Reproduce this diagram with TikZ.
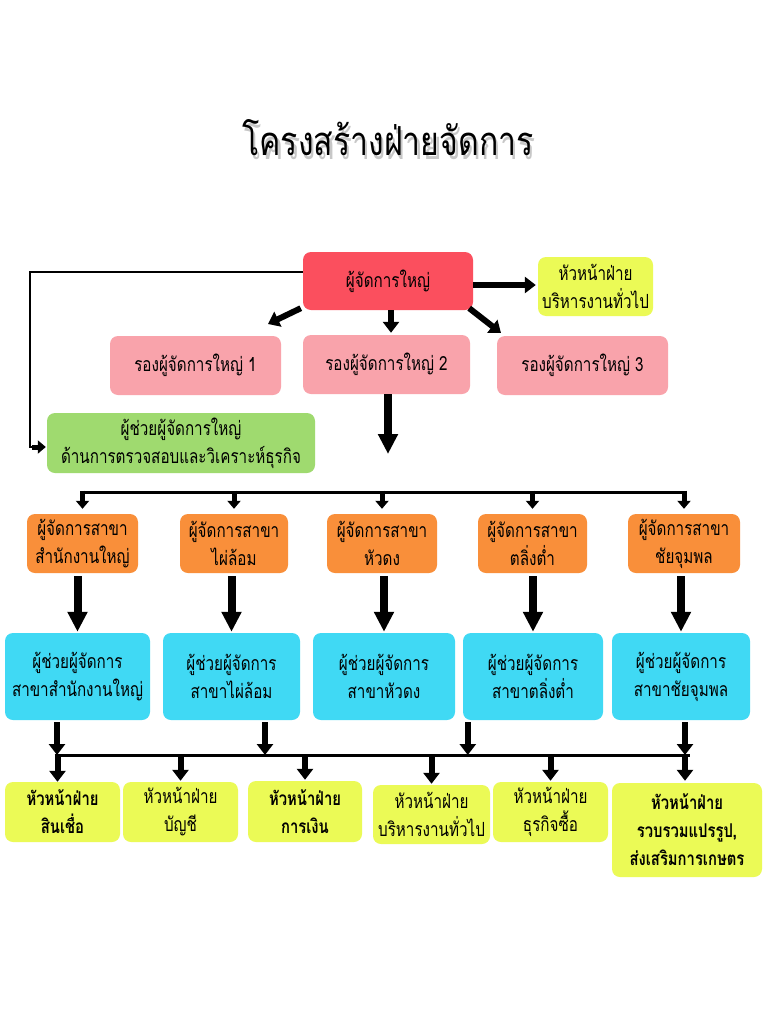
\documentclass[tikz,border=0pt]{standalone}
\usepackage{fontspec}
\newfontfamily\thaic[Script=Thai,FakeStretch=0.78]{Loma}
\newfontfamily\thait[Script=Thai,FakeStretch=0.8]{Loma}
\usetikzlibrary{arrows.meta,calc}
\definecolor{cred}{RGB}{251,79,94}
\definecolor{cpink}{RGB}{249,163,171}
\definecolor{cyel}{RGB}{235,250,86}
\definecolor{cgreen}{RGB}{159,218,111}
\definecolor{corange}{RGB}{249,143,58}
\definecolor{cblue}{RGB}{64,217,244}
\tikzset{
  box/.style={rounded corners=8pt, inner sep=0pt, align=center, text=black,
    font=\thaic\fontsize{19.5}{28}\selectfont},
  boldbox/.style={font=\thaic\bfseries\fontsize{19}{28}\selectfont},
  redbox/.style={box, fill=cred},
  pinkbox/.style={box, fill=cpink},
  yelbox/.style={box, fill=cyel},
  greenbox/.style={box, fill=cgreen},
  orbox/.style={box, fill=corange},
  bluebox/.style={box, fill=cblue},
  bigarrow/.style={line width=8pt, -{Triangle[width=19pt,length=20pt]}},
  midarrow/.style={line width=6pt, -{Triangle[width=16pt,length=11pt]}},
  smallarrow/.style={line width=5pt, -{Triangle[width=13pt,length=8pt]}},
  busline/.style={line width=3pt},
  thinline/.style={line width=2pt},
  titlefont/.style={font=\thait\fontsize{40}{44}\selectfont},
}
\begin{document}
\begin{tikzpicture}[x=1pt,y=-1pt]
\useasboundingbox[fill=white] (0,0) rectangle (770,1033);
% title
\node[titlefont, text=black!40, opacity=0.55] (tshadow) at (390.5,141.5) {โครงสร้างฝ่ายจัดการ};
\node[titlefont, text=black] (title) at (388,138) {โครงสร้างฝ่ายจัดการ};
% top level
\node[redbox, minimum width=170pt, minimum height=58pt] (gm) at (388,281) {ผู้จัดการใหญ่};
\node[yelbox, minimum width=115pt, minimum height=59pt] (gy) at (595.5,286.5) {หัวหน้าฝ่าย\\บริหารงานทั่วไป};
\node[pinkbox, minimum width=171pt, minimum height=59pt] (d1) at (195.5,365.5) {รองผู้จัดการใหญ่ 1};
\node[pinkbox, minimum width=167pt, minimum height=59pt] (d2) at (386.5,364.5) {รองผู้จัดการใหญ่ 2};
\node[pinkbox, minimum width=171pt, minimum height=59pt] (d3) at (582.5,365.5) {รองผู้จัดการใหญ่ 3};
\node[greenbox, minimum width=268pt, minimum height=60pt] (ag) at (181,443) {ผู้ช่วยผู้จัดการใหญ่\\ด้านการตรวจสอบและวิเคราะห์ธุรกิจ};
% branch managers
\node[orbox, minimum width=111pt, minimum height=59pt] (o1) at (82.5,543.5) {ผู้จัดการสาขา\\สำนักงานใหญ่};
\node[orbox, minimum width=108pt, minimum height=59pt] (o2) at (234,543.5) {ผู้จัดการสาขา\\ไผ่ล้อม};
\node[orbox, minimum width=110pt, minimum height=59pt] (o3) at (382,543.5) {ผู้จัดการสาขา\\หัวดง};
\node[orbox, minimum width=109pt, minimum height=59pt] (o4) at (532.5,543.5) {ผู้จัดการสาขา\\ตลิ่งต่ำ};
\node[orbox, minimum width=112pt, minimum height=59pt] (o5) at (684,543.5) {ผู้จัดการสาขา\\ชัยจุมพล};
% assistants
\node[bluebox, minimum width=145pt, minimum height=87pt] (b1) at (77.5,676.5) {ผู้ช่วยผู้จัดการ\\สาขาสำนักงานใหญ่};
\node[bluebox, minimum width=137pt, minimum height=87pt] (b2) at (231.5,676.5) {ผู้ช่วยผู้จัดการ\\สาขาไผ่ล้อม};
\node[bluebox, minimum width=142pt, minimum height=87pt] (b3) at (384,676.5) {ผู้ช่วยผู้จัดการ\\สาขาหัวดง};
\node[bluebox, minimum width=140pt, minimum height=87pt] (b4) at (533,676.5) {ผู้ช่วยผู้จัดการ\\สาขาตลิ่งต่ำ};
\node[bluebox, minimum width=138pt, minimum height=87pt] (b5) at (681,676.5) {ผู้ช่วยผู้จัดการ\\สาขาชัยจุมพล};
% department heads
\node[yelbox, boldbox, minimum width=115pt, minimum height=60pt] (y1) at (62.5,812) {หัวหน้าฝ่าย\\สินเชื่อ};
\node[yelbox, minimum width=115pt, minimum height=60pt] (y2) at (180.5,812) {หัวหน้าฝ่าย\\บัญชี};
\node[yelbox, boldbox, minimum width=114pt, minimum height=61pt] (y3) at (305,811.5) {หัวหน้าฝ่าย\\การเงิน};
\node[yelbox, minimum width=117pt, minimum height=59pt] (y4) at (431.5,814.5) {หัวหน้าฝ่าย\\บริหารงานทั่วไป};
\node[yelbox, minimum width=115pt, minimum height=60pt] (y5) at (550.5,812) {หัวหน้าฝ่าย\\ธุรกิจซื้อ};
\node[yelbox, boldbox, minimum width=150pt, minimum height=94pt] (y6) at (687,830) {หัวหน้าฝ่าย\\รวบรวมแปรรูป,\\ส่งเสริมการเกษตร};
% free ends
\coordinate (e1) at (268,324);
\coordinate (e3) at (501,333);
\coordinate (e2) at (388,454);
\coordinate (c1) at (30,447);
\coordinate (bus1) at (0,492);
\coordinate (bus2) at (0,755);
% top connectors
\draw[midarrow] ([yshift=-4pt]gm.east) -- ([xshift=-2pt,yshift=1.5pt]gy.west);
\draw[midarrow] ([xshift=-2pt,yshift=2pt]gm.south west) -- (e1);
\draw[midarrow] ([xshift=-4pt,yshift=2pt]gm.south east) -- (e3);
\draw[midarrow] ([xshift=3pt]gm.south) -- ([xshift=3pt,yshift=2pt]gm.south |- d2.north);
\draw[bigarrow] ([xshift=1.5pt]d2.south) -- (e2);
\draw[thinline] ([yshift=9pt]gm.west) -| (c1) -- ([xshift=-14pt,yshift=-4pt]ag.west);
\draw[smallarrow] ([xshift=-15pt,yshift=-4pt]ag.west) -- ([xshift=-1pt,yshift=-4pt]ag.west);
% bus 1
\draw[busline] (bus1 -| o1.north) -- (bus1 -| o5.north);
\foreach \n in {o1,o2,o3,o4,o5}
  \draw[smallarrow] ([yshift=1.5pt]bus1 -| \n.north) -- ([yshift=5pt]\n.north);
% orange to blue
\foreach \o/\b in {o1/b1,o2/b2,o3/b3,o4/b4,o5/b5}
  \draw[bigarrow] ([yshift=-3pt]\b.north |- \o.south) -- ([yshift=1pt]\b.north);
% blue to bus 2
\draw[midarrow] ([xshift=-20.5pt,yshift=-2pt]b1.south) -- ([xshift=-20.5pt]b1.south |- bus2);
\draw[midarrow] ([xshift=33.5pt,yshift=-2pt]b2.south) -- ([xshift=33.5pt]b2.south |- bus2);
\draw[midarrow] ([xshift=5pt,yshift=-2pt]b4.south west) -- ([xshift=5pt]b4.south west |- bus2);
\draw[midarrow] ([xshift=4pt,yshift=-2pt]b5.south) -- ([xshift=4pt]b5.south |- bus2);
% bus 2
\draw[busline] ([xshift=-8pt]bus2 -| y1.north) -- ([xshift=3pt]bus2 -| y6.north);
\draw[midarrow] ([xshift=-5pt,yshift=-1.5pt]bus2 -| y1.north) -- ([xshift=-5pt]y1.north);
\foreach \n in {y2,y3,y4,y5}
  \draw[midarrow] ([yshift=-1.5pt]bus2 -| \n.north) -- ([yshift=1pt]\n.north);
\draw[midarrow] ([xshift=-2pt,yshift=-1.5pt]bus2 -| y6.north) -- ([xshift=-2pt,yshift=2pt]y6.north);
\end{tikzpicture}
\end{document}
